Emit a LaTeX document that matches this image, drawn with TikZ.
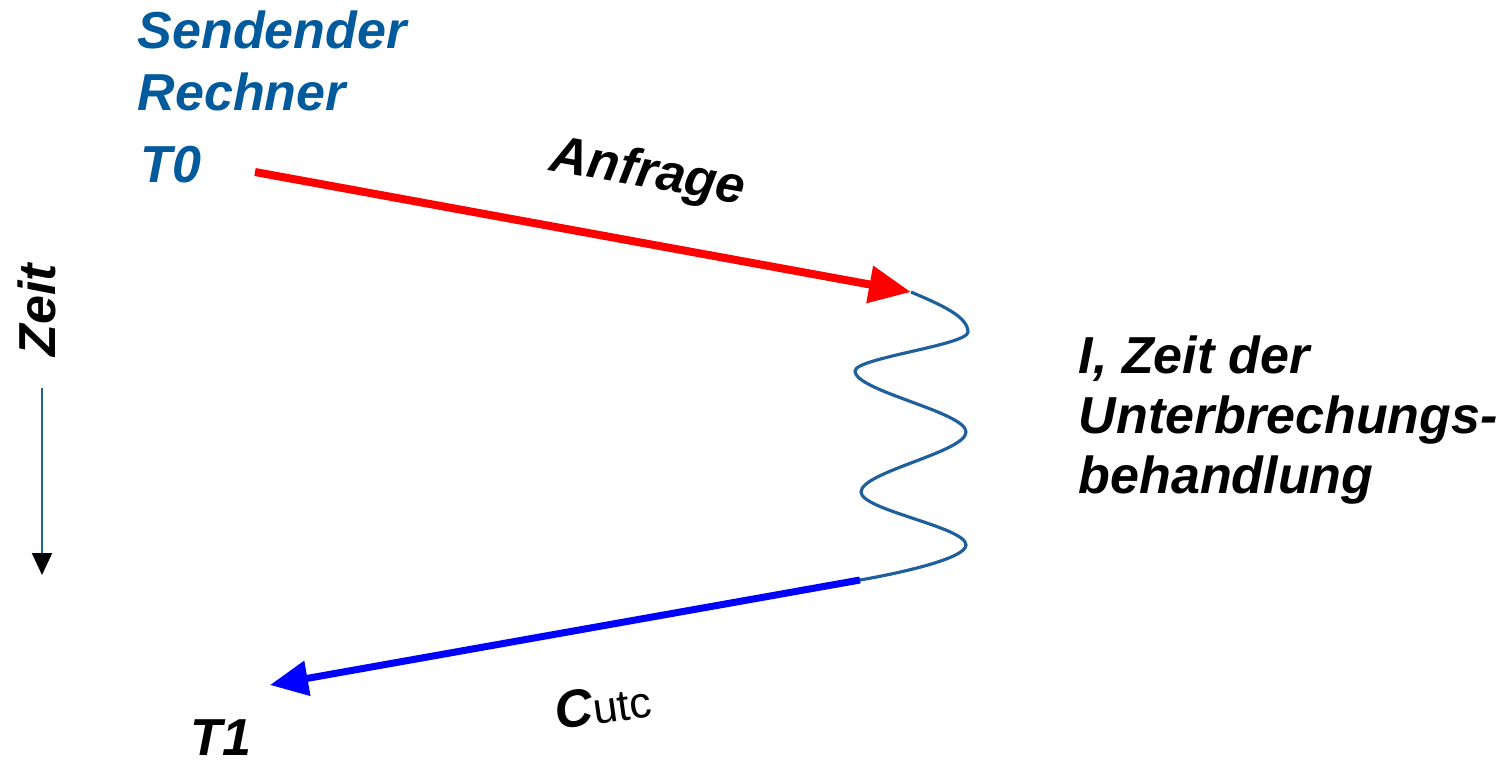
\documentclass[tikz,border=0pt]{standalone}
\usepackage{fontspec}
\setmainfont{Liberation Sans}
\usepackage{xcolor}
\usetikzlibrary{arrows.meta,positioning}
\definecolor{senderblue}{HTML}{005A9C}
\definecolor{wavecol}{HTML}{1F5F9C}

\begin{document}
\begin{tikzpicture}[
    lbl/.style={font=\fontsize{14.8}{17}\selectfont\bfseries\itshape, inner sep=0pt, anchor=base west},
    req/.style={red, line width=0.08cm, -{Triangle[length=0.42cm,width=0.36cm]}},
    rep/.style={blue, line width=0.07cm, -{Triangle[length=0.38cm,width=0.34cm]}},
    wave/.style={wavecol, line width=0.9pt},
    ]
    \useasboundingbox (0,0) rectangle (15.06,-7.64);
    % sender side
    \node[lbl, text=senderblue] (sender) at (1.37,-0.48) {Sendender};
    \node[lbl, text=senderblue] (rechner) at (1.37,-1.10) {Rechner};
    \node[lbl, text=senderblue] (t0) at (1.40,-1.82) {T0};
    \node[lbl] (t1) at (1.90,-7.55) {T1};
    % time axis
    \node[lbl, rotate=90, anchor=center] (zeit) at (0.37,-3.10) {Zeit};
    \coordinate (zstart) at (0.42,-3.88);
    \coordinate (zend) at (0.42,-5.75);
    \draw[wavecol, line width=0.6pt, -{Triangle[length=0.22cm,width=0.2cm,color=black]}] (zstart) -- (zend);
    % request and reply
    \coordinate (reqstart) at (2.55,-1.72);
    \coordinate (reqend) at (9.11,-2.92);
    \coordinate (repstart) at (8.60,-5.80);
    \coordinate (repend) at (2.70,-6.85);
    \draw[req] (reqstart) -- (reqend);
    \draw[rep] (repstart) -- (repend);
    \node[lbl, anchor=center, rotate=-10] (anfrage) at (6.48,-1.74) {Anfrage};
    \node[anchor=center, inner sep=0pt, rotate=8] (cutc) at (6.03,-7.05)
        {{\fontsize{15}{17}\selectfont\bfseries\itshape C}{\fontsize{12.5}{15}\selectfont utc}};
    % interrupt handling
    \coordinate (w1) at (9.68,-3.32);
    \coordinate (w2) at (8.55,-3.71);
    \coordinate (w3) at (9.66,-4.32);
    \coordinate (w4) at (8.61,-4.92);
    \coordinate (w5) at (9.66,-5.45);
    \draw[wave] (reqend) .. controls +(0.28,-0.12) and +(0,0.16) .. (w1)
        .. controls +(0,-0.13) and +(0,0.13) .. (w2)
        .. controls +(0,-0.20) and +(0,0.20) .. (w3)
        .. controls +(0,-0.20) and +(0,0.20) .. (w4)
        .. controls +(0,-0.18) and +(0,0.18) .. (w5)
        .. controls +(0,-0.14) and +(0.35,0.06) .. (repstart);
    \node[lbl] (int1) at (10.78,-3.73) {I, Zeit der};
    \node[lbl] (int2) at ([yshift=-0.60cm]int1.base west) {Unterbrechungs-};
    \node[lbl] (int3) at ([yshift=-0.60cm]int2.base west) {behandlung};
\end{tikzpicture}
\end{document}
